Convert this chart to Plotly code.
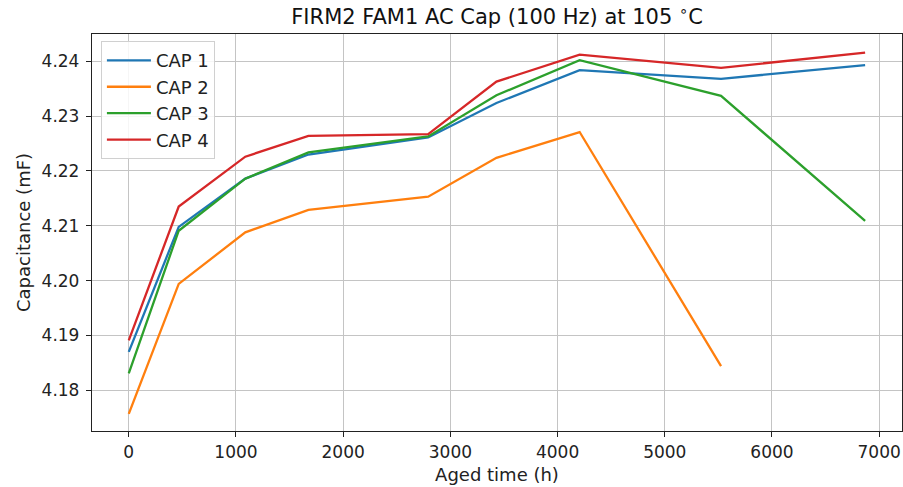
import plotly.graph_objects as go

aged_time = [0, 466, 1087, 1676, 2793, 3430, 4206, 5525, 6869]
cap1 = [4.1870, 4.2098, 4.2186, 4.2230, 4.2261, 4.2324, 4.2384, 4.2368, 4.2393]
cap2 = [4.1757, 4.1994, 4.2088, 4.2129, 4.2153, 4.2224, 4.2271, 4.1844]
cap3 = [4.1831, 4.2091, 4.2186, 4.2234, 4.2263, 4.2338, 4.2402, 4.2337, 4.2109]
cap4 = [4.1891, 4.2135, 4.2226, 4.2264, 4.2267, 4.2363, 4.2412, 4.2388, 4.2416]

names = ["CAP 1", "CAP 2", "CAP 3", "CAP 4"]
colors = ["#1f77b4", "#ff7f0e", "#2ca02c", "#d62728"]
series = [cap1, cap2, cap3, cap4]

x_ticks = [0, 1000, 2000, 3000, 4000, 5000, 6000, 7000]
y_ticks = [4.18, 4.19, 4.20, 4.21, 4.22, 4.23, 4.24]

fig = go.Figure()
for name, color, vals in zip(names, colors, series):
    fig.add_trace(go.Scatter(
        x=aged_time[:len(vals)], y=vals, mode="lines", name=name,
        legendgroup=name,
        line=dict(color=color, width=2.3),
    ))

font_family = "DejaVu Sans"
axis_common = dict(
    showline=True, linecolor="#222222", linewidth=1.3, mirror=True,
    showgrid=True, gridcolor="#c4c4c4", gridwidth=1.3,
    ticks="outside", ticklen=5, tickwidth=1.3, tickcolor="#222222",
    zeroline=False,
    tickfont=dict(family=font_family, size=17, color="#222222"),
)

fig.update_layout(
    width=903, height=487,
    margin=dict(l=92, r=1, t=34, b=56),
    paper_bgcolor="white", plot_bgcolor="white",
    font=dict(family=font_family, color="#222222"),
    title=dict(
        text="FIRM2 FAM1 AC Cap (100 Hz) at 105 <sup>∘</sup>C",
        x=0.5505, xanchor="center", y=0.965, yanchor="middle",
        font=dict(family=font_family, size=21, color="#111111"),
    ),
    xaxis=dict(
        range=[-343, 7213], tickvals=x_ticks,
        title=dict(text="Aged time (h)", font=dict(family=font_family, size=18), standoff=7),
        **axis_common,
    ),
    yaxis=dict(
        range=[4.17257, 4.24498], tickvals=y_ticks, tickformat=".2f",
        ticklabelstandoff=3,
        title=dict(text="Capacitance (mF)", font=dict(family=font_family, size=18), standoff=6),
        **axis_common,
    ),
    legend=dict(
        x=0.011, y=0.982, xanchor="left", yanchor="top",
        bgcolor="rgba(255,255,255,0.85)", bordercolor="#d0d0d0", borderwidth=1,
        font=dict(family=font_family, size=18, color="#222222"),
        itemwidth=44, tracegroupgap=2, traceorder="normal",
    ),
    showlegend=True,
)

fig.write_html("out.html")
